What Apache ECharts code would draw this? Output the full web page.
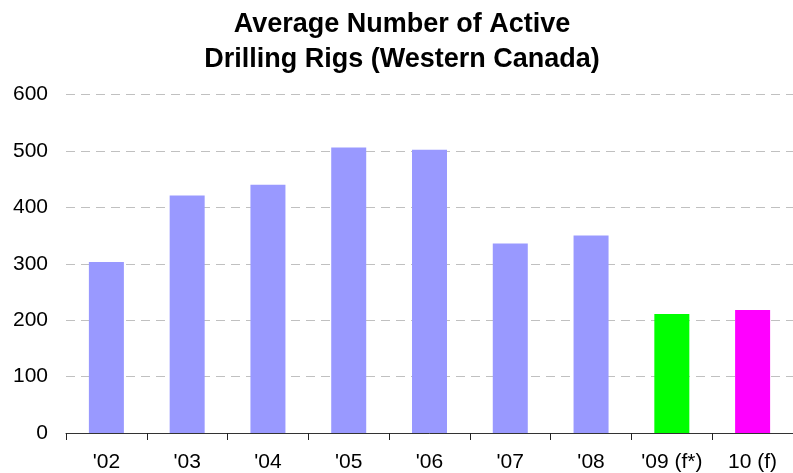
<!DOCTYPE html>
<html>
<head>
<meta charset="utf-8">
<script src="https://cdn.jsdelivr.net/npm/echarts@6/dist/echarts.min.js"></script>
<style>
html,body{margin:0;padding:0;background:#fff;}
#chart{width:793px;height:473px;}
</style>
</head>
<body>
<div id="chart"></div>
<script>
const categories = ["'02", "'03", "'04", "'05", "'06", "'07", "'08", "'09 (f*)", "10 (f)"];
const rigCounts = [303, 421, 440, 506, 502, 336, 350, 211, 218];
const yTicks = [0, 100, 200, 300, 400, 500, 600];
const titleLines = ['Average Number of Active', 'Drilling Rigs (Western Canada)'];

const barColors = ['#9999FF', '#9999FF', '#9999FF', '#9999FF', '#9999FF', '#9999FF', '#9999FF', '#00FF00', '#FF00FF'];

const chart = echarts.init(document.getElementById('chart'), null, {renderer: 'canvas'});
chart.setOption({
  animation: false,
  backgroundColor: '#ffffff',
  graphic: titleLines.map((t, i) => ({
    type: 'text',
    x: 402,
    y: 11 + i * 35,
    style: {
      text: t,
      fontFamily: 'Liberation Sans, Arial, sans-serif',
      fontWeight: 'bold',
      fontSize: 27,
      align: 'center',
      verticalAlign: 'top',
      fill: '#000'
    }
  })),
  grid: {left: 66, top: 94.5, width: 736, bottom: 40},
  xAxis: {
    type: 'category',
    data: categories,
    boundaryGap: true,
    axisLine: {show: true, lineStyle: {color: '#333', width: 1}},
    axisTick: {show: true, length: 7, alignWithLabel: false, lineStyle: {color: '#222'}},
    axisLabel: {
      margin: 19,
      fontFamily: 'Liberation Sans, Arial, sans-serif',
      fontSize: 21,
      color: '#000',
      interval: 0
    }
  },
  yAxis: {
    type: 'value',
    min: yTicks[0],
    max: yTicks[yTicks.length - 1],
    interval: 100,
    axisLine: {show: false},
    axisTick: {show: false},
    axisLabel: {
      margin: 18,
      fontFamily: 'Liberation Sans, Arial, sans-serif',
      fontSize: 21,
      color: '#000'
    },
    splitLine: {show: true, lineStyle: {color: '#c0c0c0', type: [9, 6], width: 1}}
  },
  series: [{
    type: 'bar',
    data: rigCounts.map((v, i) => ({value: v, itemStyle: {color: barColors[i]}})),
    barWidth: 35
  }]
});
</script>
</body>
</html>
